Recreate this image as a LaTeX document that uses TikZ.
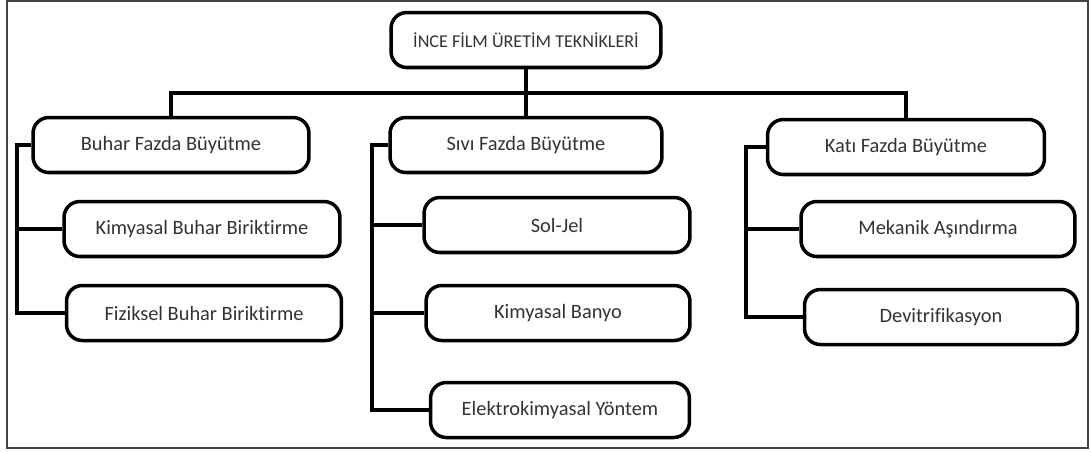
\documentclass[tikz,border=0pt]{standalone}
\usepackage{fontspec}
\setmainfont{Carlito}[Ligatures={NoCommon}]
\usepackage{tikz}
\usetikzlibrary{positioning}
\definecolor{framegray}{HTML}{444444}

\begin{document}
\begin{tikzpicture}[x=0.02cm,y=-0.02cm,
    techbox/.style={draw,line width=2pt,rounded corners=9pt,
      minimum height=1.1cm,inner sep=2pt,text=black!80,
      font=\fontsize{11.6}{13}\selectfont},
    link/.style={line width=2pt}]
    \useasboundingbox (0,0) rectangle (1091,451);
    \draw[framegray,line width=1.2pt] (7,1) rectangle (1088,448);

    \node[techbox,minimum width=5.4cm,font=\fontsize{10.3}{12}\selectfont]
      (root) at (526,40) {İNCE FİLM ÜRETİM TEKNİKLERİ};

    \node[techbox,minimum width=5.52cm] (buhar) at (171,145)
      {Buhar Fazda Büyütme};
    \node[techbox,minimum width=5.44cm] (sivi) at (526,145)
      {Sıvı Fazda Büyütme};
    \node[techbox,minimum width=5.54cm] (kati) at (906,147)
      {Katı Fazda Büyütme};

    \node[techbox,minimum width=5.52cm] (kimyasal) at (202,229)
      {Kimyasal Buhar Biriktirme};
    \node[techbox,minimum width=5.5cm] (fiziksel) at (204,313)
      {Fiziksel Buhar Biriktirme};

    \node[techbox,minimum width=5.32cm] (soljel) at (557,225) {Sol-Jel};
    \node[techbox,minimum width=5.28cm] (banyo) at (558,313)
      {Kimyasal Banyo};
    \node[techbox,minimum width=5.18cm] (elektro) at (560,410)
      {Elektrokimyasal Yöntem};

    \node[techbox,minimum width=5.48cm] (mekanik) at (938,229)
      {Mekanik Aşındırma};
    \node[techbox,minimum width=5.46cm] (devitri) at (941,317)
      {Devitrifikasyon};

    \coordinate (bus) at (0,93);
    \coordinate (lspine) at (17,0);
    \coordinate (mspine) at (372,0);
    \coordinate (rspine) at (746,0);

    \draw[link] (root.south) -- (sivi.north);
    \draw[link] (buhar.north) -- (buhar.north |- bus)
      -- (kati.north |- bus) -- (kati.north);

    \draw[link] (buhar.west) -- (buhar.west -| lspine) |- (fiziksel.west);
    \draw[link] (kimyasal.west) -- (kimyasal.west -| lspine);

    \draw[link] (sivi.west) -- (sivi.west -| mspine) |- (elektro.west);
    \draw[link] (soljel.west) -- (soljel.west -| mspine);
    \draw[link] (banyo.west) -- (banyo.west -| mspine);

    \draw[link] (kati.west) -- (kati.west -| rspine) |- (devitri.west);
    \draw[link] (mekanik.west) -- (mekanik.west -| rspine);
\end{tikzpicture}
\end{document}
